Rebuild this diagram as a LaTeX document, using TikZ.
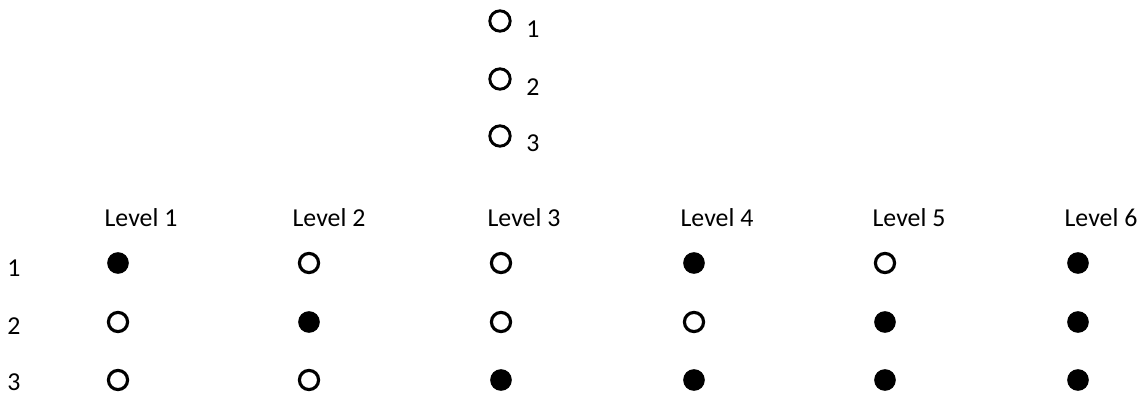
\documentclass[tikz,border=0pt]{standalone}
\usepackage{fontspec}
\setmainfont{Carlito}
\usetikzlibrary{positioning}
\tikzset{
  ring/.style={circle,draw=black,line width=1.5pt,minimum size=9.2pt,inner sep=0pt},
  bigring/.style={ring,minimum size=9.8pt,line width=1.4pt},
  dot/.style={circle,fill=black,minimum size=10.4pt,inner sep=0pt},
  lbl/.style={font=\fontsize{12.4}{14}\selectfont,inner sep=0pt},
}

\begin{document}
\begin{tikzpicture}[x=0.48pt,y=-0.48pt]
\useasboundingbox (0,0) rectangle (1142,395);
% legend on top
\node[bigring] (k1) at (500,21) {};
\node[bigring] (k2) at (500,79) {};
\node[bigring] (k3) at (500,136) {};
\node[lbl] (t1) at (533,29) {1};
\node[lbl] (t2) at (533,87) {2};
\node[lbl] (t3) at (533,143) {3};
% column heads
\node[lbl] (h1) at (141,218) {Level 1};
\node[lbl] (h2) at (329,218) {Level 2};
\node[lbl] (h3) at (524,218) {Level 3};
\node[lbl] (h4) at (717,218) {Level 4};
\node[lbl] (h5) at (909,218) {Level 5};
\node[lbl] (h6) at (1101,218) {Level 6};
% row numbers
\node[lbl] (r1) at (14,268) {1};
\node[lbl] (r2) at (14,326) {2};
\node[lbl] (r3) at (14,382) {3};
% grid: column x / states of rows 1..3
\foreach \c/\x/\a/\b/\d in {1/118/dot/ring/ring, 2/309/ring/dot/ring, 3/501/ring/ring/dot,
                          4/694/dot/ring/dot, 5/885/ring/dot/dot, 6/1078/dot/dot/dot}{
  \node[\a] (g\c-1) at (\x,263) {};
  \node[\b] (g\c-2) at (\x,322) {};
  \node[\d] (g\c-3) at (\x,380) {};
}
\end{tikzpicture}
\end{document}
